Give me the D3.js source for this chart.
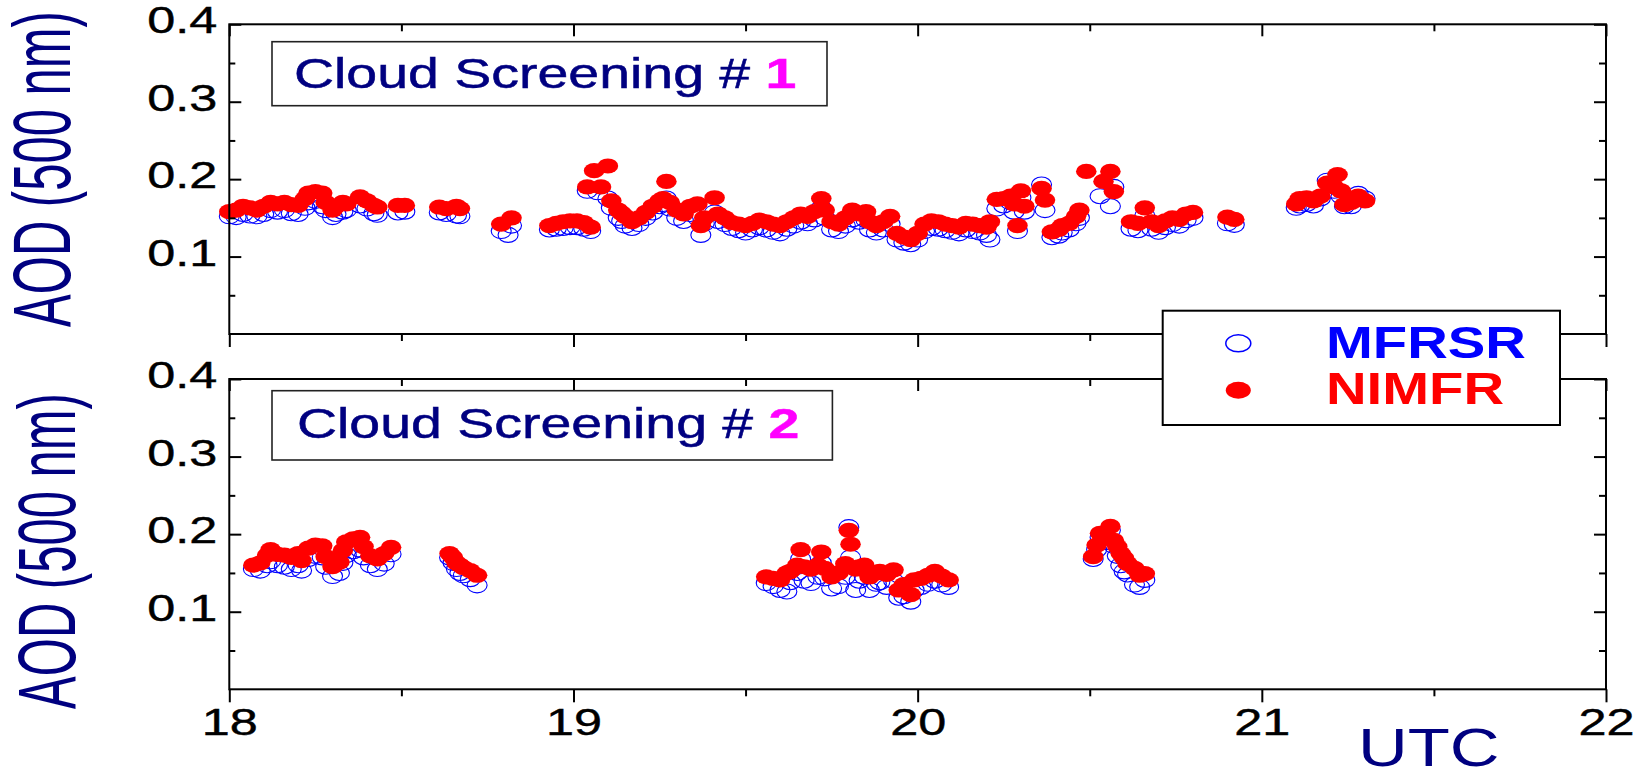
<!DOCTYPE html>
<html>
<head>
<meta charset="utf-8">
<script src="https://cdnjs.cloudflare.com/ajax/libs/d3/7.8.5/d3.min.js"></script>
<style>
body { margin: 0; background: #fff; }
svg { display: block; font-family: "Liberation Sans", Arial, sans-serif; }
</style>
</head>
<body>
<script>
// tick values
var hourTicks = [18, 19, 20, 21, 22];
var hourMinor = [18.5, 19.5, 20.5, 21.5];
var aodTicks = [0.1, 0.2, 0.3, 0.4];
var aodMinor = [0.05, 0.15, 0.25, 0.35];
var seriesNames = ['MFRSR', 'NIMFR'];
var panelNumbers = ['1', '2'];

// cloud screening #1 : [UTC hour, AOD]
var mfrsr1 = [
  [18.00,0.152],[18.02,0.151],[18.04,0.155],[18.06,0.153],[18.08,0.152],[18.10,0.155],[18.12,0.160],[18.14,0.158],
  [18.16,0.160],[18.18,0.156],[18.20,0.155],[18.22,0.163],[18.23,0.170],[18.25,0.172],[18.27,0.165],[18.28,0.160],
  [18.30,0.151],[18.31,0.155],[18.33,0.158],[18.34,0.160],[18.38,0.166],[18.40,0.162],[18.42,0.156],[18.43,0.154],
  [18.49,0.157],[18.51,0.158],[18.61,0.157],[18.63,0.155],[18.66,0.153],[18.67,0.152],[18.79,0.133],[18.81,0.128],
  [18.82,0.140],[18.93,0.135],[18.95,0.136],[18.97,0.137],[18.99,0.138],[19.01,0.138],[19.03,0.136],[19.05,0.133],
  [19.04,0.185],[19.07,0.183],[19.10,0.175],[19.11,0.163],[19.13,0.150],[19.14,0.146],[19.15,0.140],[19.17,0.137],
  [19.19,0.142],[19.21,0.150],[19.23,0.157],[19.25,0.165],[19.26,0.168],[19.27,0.175],[19.28,0.162],[19.30,0.150],
  [19.32,0.146],[19.34,0.155],[19.36,0.150],[19.37,0.128],[19.38,0.143],[19.41,0.157],[19.42,0.146],[19.44,0.142],
  [19.46,0.137],[19.48,0.134],[19.50,0.131],[19.52,0.135],[19.54,0.138],[19.56,0.135],[19.58,0.132],[19.60,0.130],
  [19.62,0.136],[19.64,0.140],[19.66,0.145],[19.68,0.143],[19.70,0.148],[19.72,0.163],[19.73,0.150],[19.75,0.135],
  [19.77,0.133],[19.79,0.140],[19.81,0.148],[19.83,0.145],[19.85,0.147],[19.86,0.135],[19.88,0.131],[19.90,0.135],
  [19.92,0.142],[19.94,0.122],[19.96,0.118],[19.98,0.116],[20.00,0.122],[20.02,0.133],[20.04,0.137],[20.06,0.136],
  [20.08,0.134],[20.10,0.132],[20.12,0.130],[20.14,0.135],[20.16,0.133],[20.18,0.131],[20.20,0.128],[20.21,0.122],
  [20.23,0.162],[20.25,0.166],[20.27,0.170],[20.28,0.158],[20.29,0.133],[20.30,0.176],[20.31,0.158],[20.36,0.193],
  [20.37,0.160],[20.39,0.125],[20.41,0.127],[20.42,0.131],[20.44,0.135],[20.46,0.143],[20.47,0.150],[20.53,0.178],
  [20.56,0.165],[20.57,0.190],[20.62,0.136],[20.64,0.134],[20.66,0.153],[20.68,0.136],[20.70,0.132],[20.72,0.138],
  [20.74,0.142],[20.76,0.140],[20.78,0.147],[20.80,0.150],[20.90,0.143],[20.92,0.141],[21.10,0.163],[21.11,0.166],
  [21.13,0.168],[21.15,0.166],[21.17,0.175],[21.19,0.198],[21.21,0.185],[21.23,0.178],[21.24,0.165],[21.26,0.165],
  [21.28,0.181],[21.30,0.175]
];
var nimfr1 = [
  [18.00,0.158],[18.02,0.160],[18.04,0.165],[18.06,0.163],[18.08,0.160],[18.10,0.165],[18.12,0.170],[18.14,0.168],
  [18.16,0.170],[18.18,0.167],[18.20,0.166],[18.22,0.175],[18.23,0.182],[18.25,0.184],[18.27,0.182],[18.28,0.170],
  [18.30,0.160],[18.31,0.165],[18.33,0.170],[18.34,0.168],[18.38,0.177],[18.40,0.172],[18.42,0.166],[18.43,0.164],
  [18.49,0.166],[18.51,0.166],[18.61,0.164],[18.63,0.162],[18.66,0.165],[18.67,0.162],[18.79,0.142],[18.82,0.150],
  [18.93,0.140],[18.95,0.143],[18.97,0.145],[18.99,0.146],[19.01,0.146],[19.03,0.144],[19.05,0.138],[19.04,0.190],
  [19.06,0.211],[19.08,0.190],[19.10,0.217],[19.11,0.172],[19.13,0.160],[19.14,0.156],[19.15,0.152],[19.17,0.145],
  [19.19,0.150],[19.21,0.157],[19.23,0.165],[19.25,0.172],[19.26,0.175],[19.27,0.197],[19.28,0.170],[19.30,0.160],
  [19.32,0.155],[19.34,0.165],[19.36,0.168],[19.37,0.140],[19.38,0.150],[19.41,0.176],[19.42,0.155],[19.44,0.150],
  [19.46,0.144],[19.48,0.142],[19.50,0.140],[19.52,0.143],[19.54,0.147],[19.56,0.145],[19.58,0.142],[19.60,0.140],
  [19.62,0.145],[19.64,0.150],[19.66,0.155],[19.68,0.152],[19.70,0.158],[19.72,0.175],[19.73,0.160],[19.75,0.145],
  [19.77,0.142],[19.79,0.150],[19.81,0.160],[19.83,0.155],[19.85,0.158],[19.86,0.145],[19.88,0.140],[19.90,0.145],
  [19.92,0.152],[19.94,0.130],[19.96,0.125],[19.98,0.122],[20.00,0.130],[20.02,0.142],[20.04,0.146],[20.06,0.145],
  [20.08,0.142],[20.10,0.140],[20.12,0.138],[20.14,0.143],[20.16,0.142],[20.18,0.140],[20.20,0.138],[20.21,0.145],
  [20.23,0.174],[20.25,0.175],[20.27,0.178],[20.28,0.168],[20.29,0.140],[20.30,0.185],[20.31,0.165],[20.36,0.188],
  [20.37,0.173],[20.39,0.132],[20.41,0.135],[20.42,0.140],[20.44,0.143],[20.46,0.152],[20.47,0.160],[20.49,0.210],
  [20.54,0.197],[20.56,0.210],[20.57,0.184],[20.62,0.145],[20.64,0.143],[20.66,0.163],[20.68,0.145],[20.70,0.140],
  [20.72,0.146],[20.74,0.150],[20.76,0.148],[20.78,0.155],[20.80,0.157],[20.90,0.151],[20.92,0.148],[21.10,0.168],
  [21.11,0.175],[21.13,0.176],[21.15,0.172],[21.17,0.178],[21.19,0.195],[21.21,0.190],[21.22,0.206],[21.23,0.185],
  [21.24,0.167],[21.26,0.170],[21.28,0.178],[21.30,0.172]
];

// cloud screening #2
var mfrsr2 = [
  [18.07,0.155],[18.09,0.153],[18.11,0.160],[18.12,0.165],[18.14,0.160],[18.16,0.158],[18.18,0.155],[18.20,0.160],
  [18.21,0.153],[18.23,0.168],[18.25,0.172],[18.27,0.170],[18.28,0.158],[18.30,0.146],[18.32,0.150],[18.33,0.163],
  [18.34,0.173],[18.36,0.178],[18.38,0.180],[18.39,0.170],[18.41,0.160],[18.43,0.155],[18.45,0.162],[18.47,0.174],
  [18.64,0.170],[18.65,0.163],[18.66,0.155],[18.67,0.150],[18.68,0.147],[18.70,0.142],[18.72,0.134],
  [19.56,0.137],[19.58,0.133],[19.60,0.128],[19.62,0.126],[19.63,0.138],[19.65,0.150],[19.66,0.168],[19.67,0.140],
  [19.69,0.137],[19.71,0.145],[19.72,0.163],[19.73,0.143],[19.75,0.130],[19.77,0.133],[19.79,0.145],[19.80,0.209],
  [19.805,0.170],[19.82,0.128],[19.83,0.140],[19.845,0.145],[19.86,0.128],[19.88,0.136],[19.89,0.138],[19.91,0.132],
  [19.93,0.140],[19.945,0.118],[19.96,0.120],[19.98,0.113],[19.99,0.128],[20.01,0.132],[20.03,0.136],[20.05,0.140],
  [20.07,0.135],[20.09,0.132],
  [20.51,0.168],[20.52,0.180],[20.53,0.196],[20.55,0.190],[20.56,0.205],[20.57,0.185],[20.58,0.172],[20.59,0.160],
  [20.60,0.152],[20.61,0.148],[20.63,0.135],[20.645,0.132],[20.66,0.141]
];
var nimfr2 = [
  [18.07,0.160],[18.09,0.163],[18.11,0.173],[18.12,0.180],[18.14,0.174],[18.16,0.173],[18.18,0.170],[18.20,0.175],
  [18.21,0.166],[18.23,0.182],[18.25,0.186],[18.27,0.185],[18.28,0.171],[18.30,0.158],[18.32,0.164],[18.33,0.179],
  [18.34,0.190],[18.36,0.194],[18.38,0.196],[18.39,0.184],[18.41,0.172],[18.43,0.168],[18.45,0.175],[18.47,0.183],
  [18.64,0.175],[18.65,0.170],[18.66,0.163],[18.67,0.160],[18.68,0.157],[18.70,0.153],[18.72,0.147],
  [19.56,0.145],[19.58,0.143],[19.60,0.141],[19.62,0.150],[19.63,0.152],[19.65,0.160],[19.66,0.180],[19.67,0.158],
  [19.69,0.155],[19.71,0.160],[19.72,0.177],[19.73,0.156],[19.75,0.145],[19.77,0.150],[19.79,0.162],[19.80,0.205],
  [19.805,0.187],[19.82,0.155],[19.83,0.158],[19.845,0.160],[19.86,0.145],[19.88,0.150],[19.89,0.152],[19.91,0.148],
  [19.93,0.154],[19.945,0.128],[19.96,0.135],[19.98,0.122],[19.99,0.141],[20.01,0.143],[20.03,0.147],[20.05,0.152],
  [20.07,0.146],[20.09,0.141],
  [20.51,0.171],[20.52,0.186],[20.53,0.201],[20.55,0.195],[20.56,0.210],[20.57,0.192],[20.58,0.184],[20.59,0.175],
  [20.60,0.169],[20.61,0.162],[20.63,0.156],[20.645,0.147],[20.66,0.149]
];

var navy = '#000080';
var font = '"Liberation Sans", Arial, sans-serif';

var svg = d3.select('body').append('svg')
    .attr('width', 1646)
    .attr('height', 770);

svg.append('rect').attr('width', 1646).attr('height', 770).attr('fill', '#fff');

var x0 = 229.3, x1 = 1606;
var x = d3.scaleLinear().domain([18, 22]).range([x0, x1]);

var panels = [
    { top: 24.3, bottom: 334, mf: mfrsr1, ni: nimfr1, boxY: 41.7, boxH: 64, boxW: 555, textY: 87.5, textX: 294, titleX: 70, titleY: 169 },
    { top: 379, bottom: 689.3, mf: mfrsr2, ni: nimfr2, boxY: 390.7, boxH: 69.3, boxW: 560.4, textY: 438, textX: 297, titleX: 75, titleY: 551 }
];

function styleAxis(sel) {
    sel.select('.domain').remove();
    sel.selectAll('line').attr('stroke', '#000').attr('stroke-width', 2);
    sel.attr('font-family', font);
}

panels.forEach(function (p, i) {
    var y = d3.scaleLinear().domain([0, 0.4]).range([p.bottom, p.top]);
    var g = svg.append('g');

    // markers: MFRSR open, NIMFR filled on top
    g.selectAll('.mf').data(p.mf).enter().append('ellipse')
        .attr('cx', function (d) { return x(d[0]); })
        .attr('cy', function (d) { return y(d[1]); })
        .attr('rx', 10).attr('ry', 7.5)
        .attr('fill', 'none')
        .attr('stroke', '#0000ff')
        .attr('stroke-width', 1.1);

    g.selectAll('.ni').data(p.ni).enter().append('ellipse')
        .attr('cx', function (d) { return x(d[0]); })
        .attr('cy', function (d) { return y(d[1]); })
        .attr('rx', 10.3).attr('ry', 7.6)
        .attr('fill', '#ff0000');

    // frame
    g.append('rect')
        .attr('x', x0).attr('y', p.top)
        .attr('width', x1 - x0).attr('height', p.bottom - p.top)
        .attr('fill', 'none').attr('stroke', '#000').attr('stroke-width', 2);

    // left axis, ticks inward
    var left = g.append('g').attr('transform', 'translate(' + x0 + ',0)')
        .call(d3.axisLeft(y).tickValues(aodTicks).tickSizeInner(-12).tickSizeOuter(0).tickFormat(d3.format('.1f')));
    styleAxis(left);
    left.selectAll('text')
        .attr('x', null).attr('dy', null)
        .attr('fill', '#000')
        .attr('stroke', '#000').attr('stroke-width', 0.4)
        .style('font-size', '36px')
        .attr('transform', 'translate(-12,8.5) scale(1.4,1)');
    g.append('g').attr('transform', 'translate(' + x0 + ',0)')
        .call(d3.axisLeft(y).tickValues(aodMinor).tickSizeInner(-6).tickSizeOuter(0).tickFormat(''))
        .call(styleAxis);

    // right axis, ticks inward
    g.append('g').attr('transform', 'translate(' + x1 + ',0)')
        .call(d3.axisRight(y).tickValues(aodTicks).tickSizeInner(-12).tickSizeOuter(0).tickFormat(''))
        .call(styleAxis);
    g.append('g').attr('transform', 'translate(' + x1 + ',0)')
        .call(d3.axisRight(y).tickValues(aodMinor).tickSizeInner(-7).tickSizeOuter(0).tickFormat(''))
        .call(styleAxis);

    // top axis, ticks inward
    g.append('g').attr('transform', 'translate(0,' + p.top + ')')
        .call(d3.axisTop(x).tickValues(hourTicks).tickSizeInner(-12).tickSizeOuter(0).tickFormat(''))
        .call(styleAxis);
    g.append('g').attr('transform', 'translate(0,' + p.top + ')')
        .call(d3.axisTop(x).tickValues(hourMinor).tickSizeInner(-7).tickSizeOuter(0).tickFormat(''))
        .call(styleAxis);

    // bottom axis, ticks outward
    var bottom = g.append('g').attr('transform', 'translate(0,' + p.bottom + ')')
        .call(d3.axisBottom(x).tickValues(hourTicks).tickSizeInner(13).tickSizeOuter(0)
            .tickFormat(i === 1 ? d3.format('d') : ''));
    styleAxis(bottom);
    bottom.selectAll('text')
        .attr('y', null).attr('dy', null)
        .attr('fill', '#000')
        .attr('stroke', '#000').attr('stroke-width', 0.4)
        .style('font-size', '36px')
        .attr('transform', 'translate(0,' + (735 - p.bottom) + ') scale(1.4,1)');
    g.append('g').attr('transform', 'translate(0,' + p.bottom + ')')
        .call(d3.axisBottom(x).tickValues(hourMinor).tickSizeInner(7).tickSizeOuter(0).tickFormat(''))
        .call(styleAxis);

    // y title
    g.append('text')
        .attr('transform', 'translate(' + p.titleX + ',' + p.titleY + ') rotate(-90) scale(1,1.66)')
        .attr('text-anchor', 'middle')
        .attr('fill', navy)
        .style('font-size', '49px')
        .text('AOD (500 nm)');

    // cloud screening label box
    g.append('rect')
        .attr('x', 272).attr('y', p.boxY)
        .attr('width', p.boxW).attr('height', p.boxH)
        .attr('fill', '#fff').attr('stroke', '#222').attr('stroke-width', 1.6);
    var t = g.append('text')
        .attr('transform', 'translate(' + p.textX + ',' + p.textY + ') scale(1.29,1)')
        .attr('fill', navy)
        .attr('stroke', navy).attr('stroke-width', 0.5)
        .style('font-size', '43px')
        .attr('xml:space', 'preserve');
    t.append('tspan').text('Cloud Screening # ');
    t.append('tspan').attr('fill', '#ff00ff').attr('stroke', '#ff00ff')
        .style('font-weight', 'bold').text(panelNumbers[i]);
});

// legend
var legend = svg.append('g');
legend.append('rect')
    .attr('x', 1162.7).attr('y', 310.7)
    .attr('width', 397.3).attr('height', 114.3)
    .attr('fill', '#fff').attr('stroke', '#000').attr('stroke-width', 2);
legend.append('ellipse')
    .attr('cx', 1238.3).attr('cy', 343.3).attr('rx', 12.5).attr('ry', 8.5)
    .attr('fill', 'none').attr('stroke', '#0000ff').attr('stroke-width', 1.5);
legend.append('ellipse')
    .attr('cx', 1238.3).attr('cy', 390.3).attr('rx', 12.5).attr('ry', 8.5)
    .attr('fill', '#ff0000');
legend.selectAll('.lt').data(seriesNames).enter().append('text')
    .attr('transform', function (d, k) { return 'translate(1326,' + (k === 0 ? 358.3 : 404.3) + ') scale(1.25,1)'; })
    .attr('fill', function (d, k) { return k === 0 ? '#0000ff' : '#ff0000'; })
    .style('font-size', '45px')
    .style('font-weight', 'bold')
    .text(function (d) { return d; });

// x title
svg.append('text')
    .attr('transform', 'translate(1358,766) scale(1.3,1)')
    .attr('fill', navy)
    .style('font-size', '53px')
    .text('UTC');
</script>
</body>
</html>
